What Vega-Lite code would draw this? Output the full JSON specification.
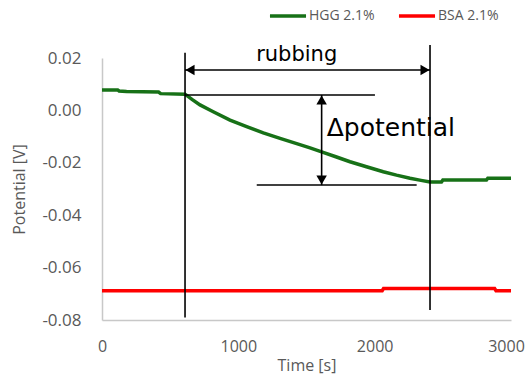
{
  "$schema": "https://vega.github.io/schema/vega-lite/v6.json",
  "autosize": {"type": "none"},
  "padding": {"left": 102, "top": 58, "right": 18, "bottom": 58},
  "width": 409,
  "height": 262,
  "background": "white",
  "config": {
    "view": {"stroke": null},
    "axis": {
      "grid": false, "ticks": false, "domainColor": "#c8c8c8", "domainWidth": 1.5,
      "labelColor": "#595959", "titleColor": "#595959",
      "labelFont": "Open Sans", "titleFont": "Open Sans",
      "labelFontSize": 17, "titleFontSize": 16, "titleFontWeight": "normal", "labelFlush": false
    }
  },
  "datasets": {
    "series": [
      {"t": 0, "v": 0.0078, "s": "HGG 2.1%"},
      {"t": 115, "v": 0.0078, "s": "HGG 2.1%"},
      {"t": 125, "v": 0.0074, "s": "HGG 2.1%"},
      {"t": 180, "v": 0.0072, "s": "HGG 2.1%"},
      {"t": 415, "v": 0.0070, "s": "HGG 2.1%"},
      {"t": 430, "v": 0.0064, "s": "HGG 2.1%"},
      {"t": 609, "v": 0.0062, "s": "HGG 2.1%"},
      {"t": 660, "v": 0.0042, "s": "HGG 2.1%"},
      {"t": 719, "v": 0.0021, "s": "HGG 2.1%"},
      {"t": 816, "v": -0.0005, "s": "HGG 2.1%"},
      {"t": 939, "v": -0.0037, "s": "HGG 2.1%"},
      {"t": 1061, "v": -0.0062, "s": "HGG 2.1%"},
      {"t": 1183, "v": -0.0086, "s": "HGG 2.1%"},
      {"t": 1306, "v": -0.0107, "s": "HGG 2.1%"},
      {"t": 1428, "v": -0.0127, "s": "HGG 2.1%"},
      {"t": 1526, "v": -0.0143, "s": "HGG 2.1%"},
      {"t": 1611, "v": -0.0158, "s": "HGG 2.1%"},
      {"t": 1715, "v": -0.0177, "s": "HGG 2.1%"},
      {"t": 1819, "v": -0.0196, "s": "HGG 2.1%"},
      {"t": 1940, "v": -0.0215, "s": "HGG 2.1%"},
      {"t": 2063, "v": -0.0234, "s": "HGG 2.1%"},
      {"t": 2160, "v": -0.0247, "s": "HGG 2.1%"},
      {"t": 2259, "v": -0.0259, "s": "HGG 2.1%"},
      {"t": 2340, "v": -0.0267, "s": "HGG 2.1%"},
      {"t": 2406, "v": -0.0273, "s": "HGG 2.1%"},
      {"t": 2490, "v": -0.0273, "s": "HGG 2.1%"},
      {"t": 2500, "v": -0.0266, "s": "HGG 2.1%"},
      {"t": 2820, "v": -0.0266, "s": "HGG 2.1%"},
      {"t": 2830, "v": -0.0259, "s": "HGG 2.1%"},
      {"t": 3000, "v": -0.0259, "s": "HGG 2.1%"},
      {"t": 0, "v": -0.0688, "s": "BSA 2.1%"},
      {"t": 2055, "v": -0.0688, "s": "BSA 2.1%"},
      {"t": 2065, "v": -0.0680, "s": "BSA 2.1%"},
      {"t": 2880, "v": -0.0680, "s": "BSA 2.1%"},
      {"t": 2890, "v": -0.0688, "s": "BSA 2.1%"},
      {"t": 3000, "v": -0.0688, "s": "BSA 2.1%"}
    ],
    "segments": [
      {"x1": 609, "x2": 609, "y1": 0.022, "y2": -0.079},
      {"x1": 2406, "x2": 2406, "y1": 0.025, "y2": -0.0762},
      {"x1": 609, "x2": 2406, "y1": 0.0154, "y2": 0.0154},
      {"x1": 609, "x2": 2002, "y1": 0.0059, "y2": 0.0059},
      {"x1": 1135, "x2": 2308, "y1": -0.0285, "y2": -0.0285},
      {"x1": 1611, "x2": 1611, "y1": 0.0059, "y2": -0.0285}
    ],
    "labels": [
      {"x": 1428, "y": 0.0211, "txt": "rubbing"},
      {"x": 1648, "y": -0.0067, "txt": "Δpotential"}
    ]
  },
  "layer": [
    {
      "data": {"name": "series"},
      "mark": {"type": "line", "strokeWidth": 3.5, "clip": false, "interpolate": "linear"},
      "encoding": {
        "x": {"field": "t", "type": "quantitative", "scale": {"domain": [0, 3000], "nice": false},
              "axis": {"values": [0, 1000, 2000, 3000], "format": "d", "title": "Time [s]", "labelPadding": 18, "titlePadding": 3,
                       "labelFontSize": 16,
                       "labelOffset": {"condition": {"test": "datum.value == 3000", "value": -5}, "value": 0}}},
        "y": {"field": "v", "type": "quantitative", "scale": {"domain": [-0.08, 0.02], "nice": false, "zero": false},
              "axis": {"values": [-0.08, -0.06, -0.04, -0.02, 0, 0.02], "labelExpr": "replace(format(datum.value, '.2f'), '\u2212', '-')", "title": "Potential [V]", "labelPadding": 21, "titlePadding": 14}},
        "color": {"field": "s", "type": "nominal",
                  "scale": {"domain": ["HGG 2.1%", "BSA 2.1%"], "range": ["#177117", "#ff0000"]},
                  "legend": {"orient": "none", "legendX": 166, "legendY": -62, "direction": "horizontal", "title": null,
                             "symbolType": "stroke", "symbolStrokeWidth": 3.5, "symbolSize": 1300,
                             "labelFont": "Open Sans", "labelFontSize": 14, "labelColor": "#595959",
                             "labelOffset": 1, "columnPadding": 16}},
        "order": {"field": "t", "type": "quantitative"}
      }
    },
    {
      "data": {"name": "segments"},
      "mark": {"type": "rule", "color": "black", "strokeWidth": 1.6, "clip": false},
      "encoding": {
        "x": {"field": "x1", "type": "quantitative"},
        "x2": {"field": "x2"},
        "y": {"field": "y1", "type": "quantitative"},
        "y2": {"field": "y2"}
      }
    },
    {
      "data": {"values": [{"x": 609, "y": 0.0154}]},
      "mark": {"type": "point", "shape": "triangle-left", "filled": true, "color": "black", "opacity": 1, "size": 110, "xOffset": 5},
      "encoding": {"x": {"field": "x", "type": "quantitative"}, "y": {"field": "y", "type": "quantitative"}}
    },
    {
      "data": {"values": [{"x": 2406, "y": 0.0154}]},
      "mark": {"type": "point", "shape": "triangle-right", "filled": true, "color": "black", "opacity": 1, "size": 110, "xOffset": -5},
      "encoding": {"x": {"field": "x", "type": "quantitative"}, "y": {"field": "y", "type": "quantitative"}}
    },
    {
      "data": {"values": [{"x": 1611, "y": 0.0059}]},
      "mark": {"type": "point", "shape": "triangle-up", "filled": true, "color": "black", "opacity": 1, "size": 110, "yOffset": 5},
      "encoding": {"x": {"field": "x", "type": "quantitative"}, "y": {"field": "y", "type": "quantitative"}}
    },
    {
      "data": {"values": [{"x": 1611, "y": -0.0285}]},
      "mark": {"type": "point", "shape": "triangle-down", "filled": true, "color": "black", "opacity": 1, "size": 110, "yOffset": -5},
      "encoding": {"x": {"field": "x", "type": "quantitative"}, "y": {"field": "y", "type": "quantitative"}}
    },
    {
      "data": {"name": "labels"},
      "transform": [{"filter": "datum.txt == 'rubbing'"}],
      "mark": {"type": "text", "font": "DejaVu Sans", "fontSize": 21, "align": "center", "baseline": "middle", "color": "black", "clip": false},
      "encoding": {"x": {"field": "x", "type": "quantitative"}, "y": {"field": "y", "type": "quantitative"}, "text": {"field": "txt"}}
    },
    {
      "data": {"name": "labels"},
      "transform": [{"filter": "datum.txt != 'rubbing'"}],
      "mark": {"type": "text", "font": "DejaVu Sans", "fontSize": 25, "align": "left", "baseline": "middle", "color": "black", "clip": false},
      "encoding": {"x": {"field": "x", "type": "quantitative"}, "y": {"field": "y", "type": "quantitative"}, "text": {"field": "txt"}}
    }
  ]
}
